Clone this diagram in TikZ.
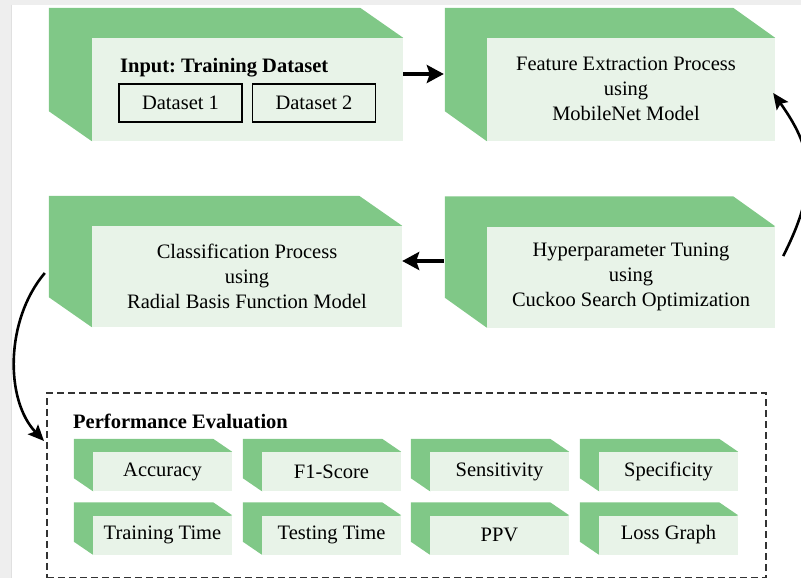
\documentclass[tikz,border=0pt]{standalone}
\usepackage{fontspec}
\setmainfont{Liberation Serif}
\usetikzlibrary{arrows.meta,backgrounds}
\definecolor{gback}{HTML}{80C887}
\definecolor{gfront}{HTML}{E8F3E8}
\definecolor{framegray}{HTML}{EEEEEE}
\frenchspacing
\tikzset{
  front/.style={fill=gfront, inner sep=0pt, align=center, font=\fontsize{20.5}{25}\selectfont},
  bigbox/.style={front, minimum width=#1, minimum height=103pt},
  smallbox/.style={front, minimum width=139pt, minimum height=39pt},
  dsbox/.style={draw, line width=1.2pt, minimum width=123pt, minimum height=38pt, inner sep=0pt, font=\fontsize{20.5}{25}\selectfont},
  boldlbl/.style={inner sep=0pt, font=\bfseries\fontsize{20.5}{25}\selectfont},
  plainlbl/.style={inner sep=0pt, align=center, font=\fontsize{20.5}{25}\selectfont},
  thickarr/.style={line width=3.5pt, -{Stealth[length=17pt,width=18pt,inset=3pt]}},
  curvearr/.style={line width=2.6pt, -{Stealth[length=16pt,width=14pt,inset=3pt]}},
  perfbox/.style={draw=black!80, line width=1.5pt, dash pattern=on 7pt off 4pt, inner sep=0pt},
}
\newcommand\backface[3]{\fill[gback] ([shift={(-#2,-#3)}]#1.north west) -- ([shift={(-#2,-#3)}]#1.north east) -- (#1.north east) -- (#1.south west) -- ([shift={(-#2,-#3)}]#1.south west) -- cycle;}
\begin{document}
\begin{tikzpicture}[x=1pt,y=-1pt]
\useasboundingbox (0,0) rectangle (801,578);
\clip (0,0) rectangle (801,578);
% main boxes
\node[bigbox=311pt] (input) at (247.5,89.5) {};
\node[boldlbl, anchor=west] (inputlbl) at (120,68) {Input: Training Dataset};
\node[dsbox] (ds1) at (180.5,103) {Dataset 1};
\node[dsbox] (ds2) at (314,103) {Dataset 2};
\node[bigbox=288pt] (feat) at (631,89.5) {};
\node[plainlbl] (featlbl) at (626,88.5) {Feature Extraction Process\\using\\MobileNet Model};
\node[bigbox=310pt, minimum height=101pt] (cls) at (247,276.5) {Classification Process\\using\\Radial Basis Function Model};
\node[bigbox=288pt, minimum height=101pt] (hyp) at (631,277) {Hyperparameter Tuning\\using\\Cuckoo Search Optimization};
% performance evaluation
\node[perfbox, minimum width=719pt, minimum height=185pt, anchor=north west] (perf) at (46,392) {};
\node[boldlbl, anchor=base west] (perflbl) at (73,428) {Performance Evaluation};
\node[smallbox] (acc) at (162.5,471.5) {Accuracy};
\node[smallbox] (f1) at (331.5,471.5) {F1-Score};
\node[smallbox] (sen) at (499.5,471.5) {Sensitivity};
\node[smallbox] (spe) at (668.5,471.5) {Specificity};
\node[smallbox] (trt) at (162.5,535) {Training Time};
\node[smallbox] (tst) at (331.5,535) {Testing Time};
\node[smallbox] (ppv) at (499.5,535) {PPV};
\node[smallbox] (loss) at (668.5,535) {Loss Graph};
\begin{scope}[on background layer]
  \fill[framegray] (0,0) rectangle (801,5);
  \fill[framegray] (0,0) rectangle (11,578);
  \draw[black!12, line width=0.8pt] (11.5,5) -- (11.5,578);
  \backface{input}{43}{30}
  \backface{feat}{42}{30}
  \backface{cls}{43}{30}
  \backface{hyp}{42}{30}
  \foreach \n in {acc,f1,sen,spe,trt,tst,ppv,loss}{\backface{\n}{19}{13}}
\end{scope}
% connectors
\draw[thickarr] ([yshift=15.5pt]input.east) -- ([xshift=-43pt,yshift=15.5pt]feat.west);
\draw[thickarr] ([xshift=-43pt,yshift=16pt]hyp.west) -- ([yshift=15.5pt]cls.east);
\draw[curvearr] ([xshift=8pt,yshift=21pt]hyp.east) .. controls (822,180) and (810,145) .. ([xshift=-2pt,yshift=-3.5pt]feat.east);
\draw[curvearr] ([xshift=-47pt,yshift=3.5pt]cls.west) .. controls (5,320) and (5,400) .. ([xshift=-2pt,yshift=-49pt]perf.north west);
\end{tikzpicture}
\end{document}
